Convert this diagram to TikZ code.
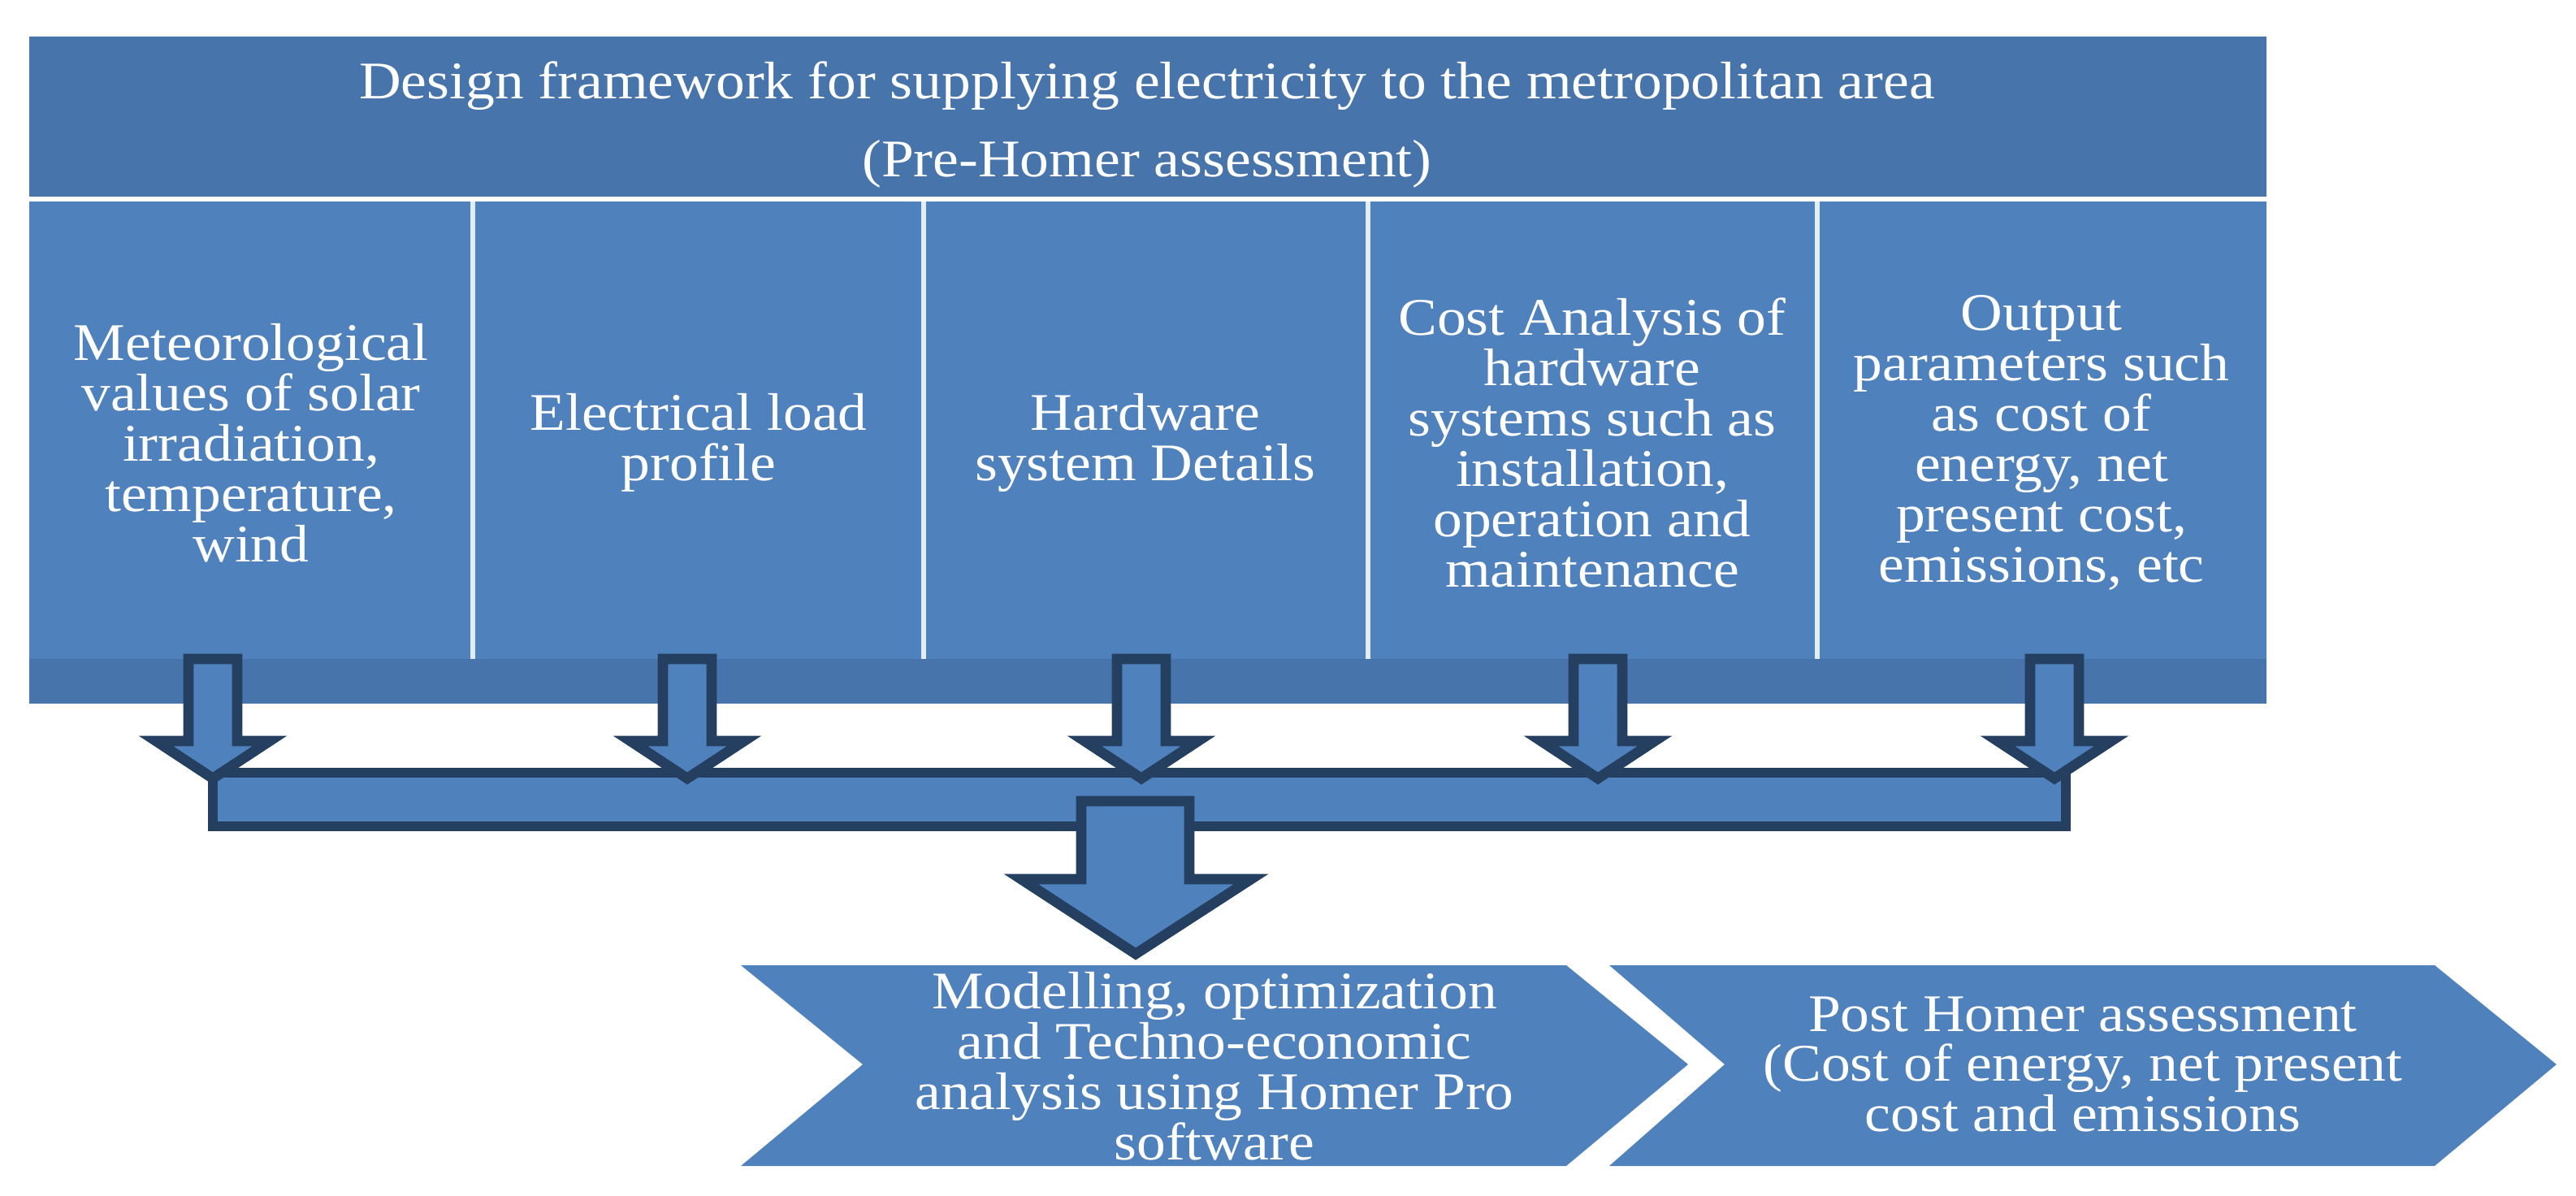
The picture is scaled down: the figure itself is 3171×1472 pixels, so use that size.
\documentclass[tikz,border=0pt]{standalone}
\usepackage{fontspec}
\setmainfont{Liberation Serif}[FakeStretch=1.1]
\definecolor{colb}{HTML}{4F81BD}
\definecolor{hdrb}{HTML}{4674AB}
\definecolor{navy}{HTML}{243F60}
\begin{document}
\begin{tikzpicture}[x=0.01cm,y=-0.01cm,
  txt/.style={text=white,font=\fontsize{18.5}{17.6}\selectfont,align=center,inner sep=0pt},
  arr/.style={fill=colb,draw=navy,line width=3.6pt,line join=miter}]
\useasboundingbox (0,0) rectangle (3171,1472);
% header and columns
\fill[hdrb] (36,45) rectangle (2790,242);
\fill[colb] (36,248) rectangle (2790,811);
\fill[hdrb] (36,811) rectangle (2790,866);
\foreach \x in {582,1137,1684,2237}{\fill[white!85!colb] (\x-3,248) rectangle (\x+3,811);}
\node[txt] (h1) at (1412,106) {Design framework for supplying electricity to the metropolitan area};
\node[txt] (h2) at (1412,202) {(Pre-Homer assessment)};
\node[txt] (c1) at (309,545) {Meteorological\\values of solar\\irradiation,\\temperature,\\wind};
\node[txt] (c2) at (860,545) {Electrical load\\profile};
\node[txt] (c3) at (1410,545) {Hardware\\system Details};
\node[txt] (c4) at (1960,545) {Cost Analysis of\\hardware\\systems such as\\installation,\\operation and\\maintenance};
\node[txt] (c5) at (2513,545) {Output\\parameters such\\as cost of\\energy, net\\present cost,\\emissions, etc};
% horizontal bar
\draw[arr] (262,951) rectangle (2543,1017);
% small arrows
\foreach \c in {262,846,1405,1967,2529}{
  \draw[arr] (\c-30,811) -- (\c+30,811) -- (\c+30,912) -- (\c+70,912) -- (\c,958) -- (\c-70,912) -- (\c-30,912) -- cycle;}
% big arrow
\draw[arr] (1331,986) -- (1464,986) -- (1464,1082) -- (1540,1082) -- (1398,1174) -- (1257,1082) -- (1331,1082) -- cycle;
% chevrons
\fill[colb] (912,1188) -- (1928,1188) -- (2078,1310) -- (1928,1435) -- (912,1435) -- (1062,1310) -- cycle;
\fill[colb] (1981,1188) -- (2997,1188) -- (3147,1310) -- (2997,1435) -- (1981,1435) -- (2123,1310) -- cycle;
\node[txt] (m) at (1495,1312) {Modelling, optimization\\and Techno-economic\\analysis using Homer Pro\\software};
\node[txt] (p) at (2564,1310) {Post Homer assessment\\(Cost of energy, net present\\cost and emissions};
\end{tikzpicture}
\end{document}
